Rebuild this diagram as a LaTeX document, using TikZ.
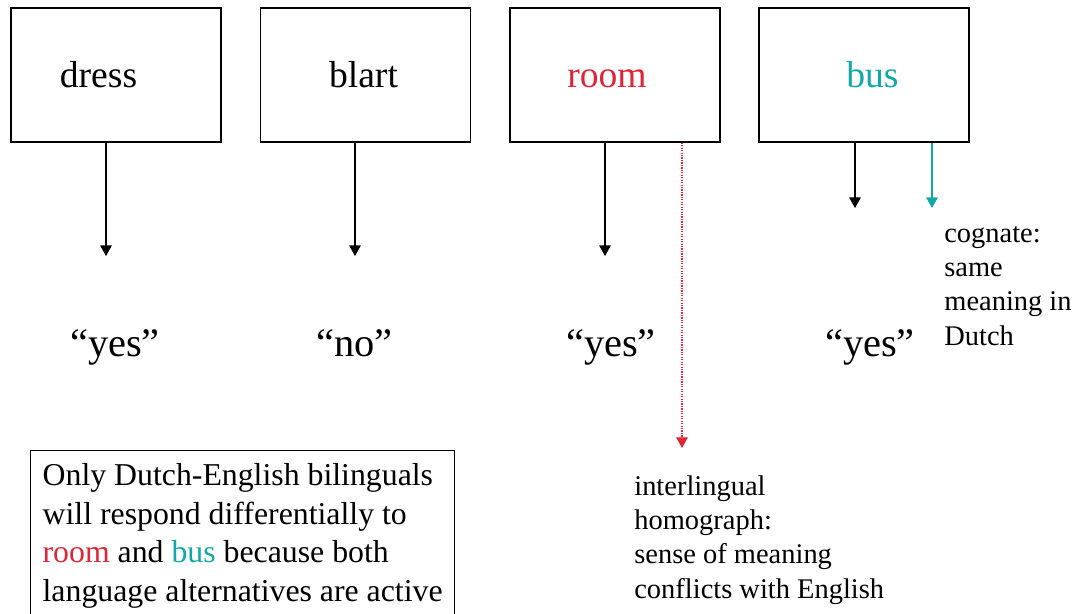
\documentclass[tikz,border=0pt]{standalone}
\usepackage{fontspec}
\setmainfont{Liberation Serif}
\usetikzlibrary{arrows.meta}
\definecolor{rouge}{RGB}{222,38,56}
\definecolor{sarcelle}{RGB}{18,168,168}

\def\px{0.02cm}

\begin{document}
\begin{tikzpicture}[x=\px,y=-\px]
\tikzstyle{boite}=[draw,thick,minimum width=4.2cm,minimum height=2.68cm,inner sep=0pt]
\tikzstyle{mot}=[anchor=base,inner sep=0pt,font=\fontsize{21.4}{26}\selectfont]
\tikzstyle{reponse}=[anchor=base,inner sep=0pt,font=\fontsize{23}{28}\selectfont]
\tikzstyle{note}=[anchor=north west,inner sep=0pt,align=left,font=\fontsize{16.2}{19.5}\selectfont]
\tikzstyle{fleche}=[-{Triangle[length=6pt,width=6.5pt]},thick]

\clip (0,0) rectangle (1080,613);

% les quatre mots
\node[boite] (b1) at (116,75) {};
\node[boite] (b2) at (365.5,75) {};
\node[boite] (b3) at (615,75) {};
\node[boite] (b4) at (864,75) {};

\node[mot] (m1) at (98.5,87) {dress};
\node[mot] (m2) at (363.5,87) {blart};
\node[mot,text=rouge] (m3) at (607,87) {room};
\node[mot,text=sarcelle] (m4) at (872.5,87) {bus};

% les reponses
\node[reponse] (r1) at (115,356.5) {``yes''};
\node[reponse] (r2) at (354.5,356.5) {``no''};
\node[reponse] (r3) at (611,356.5) {``yes''};
\node[reponse] (r4) at (870,356.5) {``yes''};

\coordinate (f1) at (106,256);
\coordinate (f2) at (355,256);
\coordinate (f3) at (605,256);
\coordinate (f4) at (855,208);
\coordinate (f5) at (932,208);
\coordinate (f6) at (682,448);

\draw[fleche] (b1.south -| f1)--(f1) ;
\draw[fleche] (b2.south -| f2)--(f2) ;
\draw[fleche] (b3.south -| f3)--(f3) ;
\draw[fleche] (b4.south -| f4)--(f4) ;
\draw[fleche,sarcelle] (b4.south -| f5)--(f5) ;
\draw[fleche,rouge,line width=0.6pt,dash pattern=on 0.7pt off 0.7pt] (b3.south -| f6)--(f6) ;

% commentaires
\node[note] (n1) at (944,218) {\strut cognate:\\same\\meaning in\\Dutch};
\node[note] (n2) at (634,471) {\strut interlingual\\homograph:\\sense of meaning\\conflicts with English};

\node[draw,thick,anchor=north west,align=left,inner xsep=6.8pt,inner ysep=4.55pt,
  font=\fontsize{18.1}{21.9}\selectfont] (conc) at (30,450)
  {\strut Only Dutch-English bilinguals\\will respond differentially to\\
   \textcolor{rouge}{room} and \textcolor{sarcelle}{bus} because both\\language alternatives are active\strut};

\end{tikzpicture}
\end{document}
